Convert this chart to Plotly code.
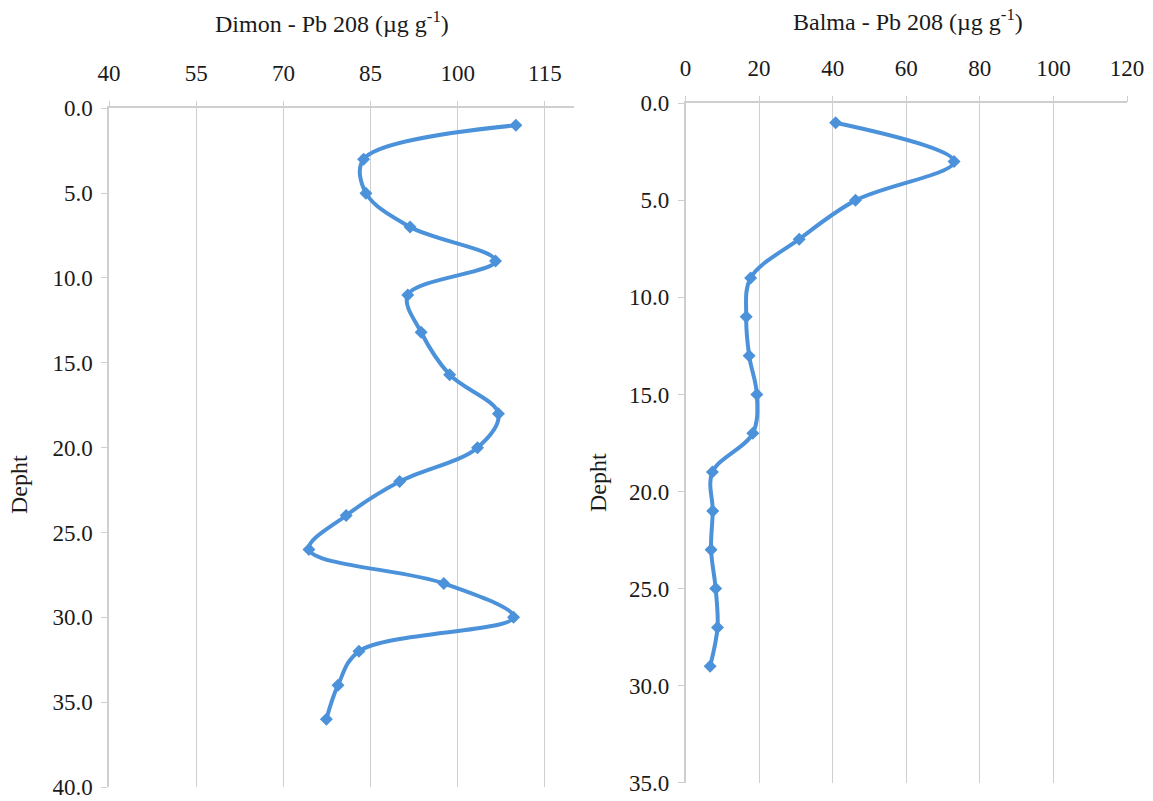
import plotly.graph_objects as go

# ---------------- data ----------------
dimon_depth = [1, 3, 5, 7, 9, 11, 13.2, 15.7, 18, 20, 22, 24, 26, 28, 30, 32, 34, 36]
dimon_pb = [110, 83.8, 84.2, 91.8, 106.5, 91.4, 93.7, 98.6, 107, 103.4, 90, 80.8, 74.4, 97.6, 109.6, 83, 79.4, 77.4]

balma_depth = [1, 3, 5, 7, 9, 11, 13, 15, 17, 19, 21, 23, 25, 27, 29]
balma_pb = [40.8, 73, 46.2, 30.9, 17.7, 16.5, 17.3, 19.4, 18.3, 7.3, 7.4, 6.95, 8.2, 8.7, 6.7]

dimon_xticks = [40, 55, 70, 85, 100, 115]
balma_xticks = [0, 20, 40, 60, 80, 100, 120]

title_left = "Dimon - Pb 208 (µg g<sup>-1</sup>)"
title_right = "Balma - Pb 208 (µg g<sup>-1</sup>)"
ylabel = "Depht"

# ---------------- style ----------------
W, H = 1153, 801
FONT = "'Liberation Serif', 'Times New Roman', Times, 'DejaVu Serif', serif"
LINE = "#4B92DA"
GRID = "#CFCFCF"
TXT = "#1A1A1A"
FS_TICK = 23
FS_TITLE = 24

fig = go.Figure()

for xs, ys, xa, ya in [(dimon_pb, dimon_depth, "x", "y"), (balma_pb, balma_depth, "x2", "y2")]:
    fig.add_trace(go.Scatter(
        x=xs, y=ys, xaxis=xa, yaxis=ya,
        mode="lines+markers",
        line=dict(color=LINE, width=4, shape="spline", smoothing=1.0),
        marker=dict(symbol="diamond", size=10, color=LINE),
        showlegend=False, cliponaxis=False,
    ))

def px_x(p):
    return p / W

def px_y(p):
    return 1 - p / H

xcommon = dict(
    side="top", showgrid=True, gridcolor=GRID, gridwidth=1.3,
    showline=True, linecolor=GRID, linewidth=1.5,
    ticks="outside", ticklen=6, tickcolor=GRID, tickwidth=1.3,
    zeroline=False, automargin=False, ticklabelstandoff=10,
    tickfont=dict(family=FONT, size=FS_TICK, color=TXT),
)
ycommon = dict(
    showgrid=False, showline=True, linecolor=GRID, linewidth=1.5,
    ticks="outside", ticklen=6, tickcolor=GRID, tickwidth=1.3,
    zeroline=False, tickformat=".1f", dtick=5, automargin=False, ticklabelstandoff=4,
    tickfont=dict(family=FONT, size=FS_TICK, color=TXT),
)

def ann(text, x, y, angle=0):
    return dict(text=text, x=px_x(x), y=px_y(y), xref="paper", yref="paper",
                xanchor="center", yanchor="middle", showarrow=False, textangle=angle,
                font=dict(family=FONT, size=FS_TITLE, color=TXT))

fig.update_layout(
    template="none",
    width=W, height=H,
    margin=dict(l=0, r=0, t=0, b=0, autoexpand=False),
    paper_bgcolor="white", plot_bgcolor="white",
    font=dict(family=FONT, size=FS_TICK, color=TXT),
    xaxis=dict(domain=[px_x(109), px_x(574)], range=[40, 120], tickvals=dimon_xticks,
               anchor="y", **xcommon),
    yaxis=dict(domain=[px_y(787), px_y(108.3)], range=[40, 0], anchor="x", **ycommon),
    xaxis2=dict(domain=[px_x(685.5), px_x(1127)], range=[0, 120], tickvals=balma_xticks,
                anchor="y2", **xcommon),
    yaxis2=dict(domain=[px_y(782.7), px_y(103.3)], range=[35, 0], anchor="x2", **ycommon),
    annotations=[
        ann(title_left, 332, 22),
        ann(title_right, 908, 20),
        ann(ylabel, 19, 485, -90),
        ann(ylabel, 598, 482, -90),
    ],
)

fig.write_html("out.html")
